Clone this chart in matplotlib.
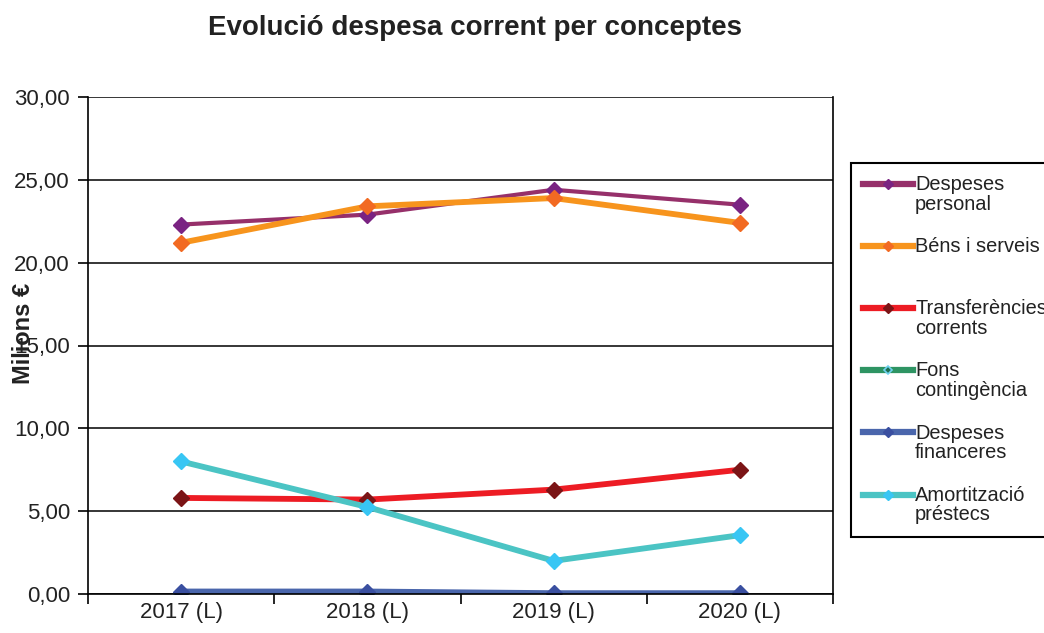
import matplotlib
matplotlib.use("Agg")
import matplotlib.pyplot as plt
from matplotlib.legend_handler import HandlerLine2D
from matplotlib.ticker import FixedLocator, FuncFormatter

plt.rcParams['font.family'] = ['Liberation Sans', 'DejaVu Sans']

years = ["2017 (L)", "2018 (L)", "2019 (L)", "2020 (L)"]
despeses_personal = [22.3, 22.9, 24.4, 23.5]
bens_serveis = [21.2, 23.4, 23.9, 22.4]
transferencies = [5.8, 5.7, 6.3, 7.5]
fons_contingencia = [0.0, 0.0, 0.0, 0.0]
despeses_financeres = [0.15, 0.15, 0.05, 0.05]
amortitzacio = [8.0, 5.25, 2.0, 3.55]

series = [
    ("Despeses\npersonal", despeses_personal, "#96306A", "#7A2382", 3.0, "D"),
    ("Béns i serveis\n ", bens_serveis, "#F7941D", "#F26A22", 4.2, "D"),
    ("Transferències\ncorrents", transferencies, "#ED1C24", "#7B1416", 4.2, "D"),
    ("Fons\ncontingència", fons_contingencia, "#2E9463", "#2E9463", 4.2, "D"),
    ("Despeses\nfinanceres", despeses_financeres, "#4A66AC", "#3A4FA0", 4.2, "D"),
    ("Amortització\npréstecs", amortitzacio, "#4BC4C4", "#38C6F4", 4.2, "D"),
]

fig = plt.figure(figsize=(10.44, 6.33), dpi=100)
ax = fig.add_axes([88/1044, 1-594/633, (833-88)/1044, (594-97)/633])

xpos = [i + 0.5 for i in range(len(years))]
handles = []
for label, vals, lc, mc, lw, mk in series:
    if label.startswith("Fons"):
        h, = ax.plot(xpos, vals, color=lc, lw=lw, marker=mk, markersize=7,
                     markerfacecolor="#1F6F50", markeredgecolor="#6FD3F0",
                     markeredgewidth=1.2, label=label)
    else:
        h, = ax.plot(xpos, vals, color=lc, lw=lw, marker=mk, markersize=8.5,
                     markerfacecolor=mc, markeredgecolor=mc, label=label)
    handles.append(h)

ax.set_xlim(0, 4)
ax.set_ylim(0, 30)
ax.yaxis.set_major_locator(FixedLocator([0, 5, 10, 15, 20, 25, 30]))
ax.yaxis.set_major_formatter(FuncFormatter(lambda v, p: f"{v:.2f}".replace(".", ",")))
ax.xaxis.set_major_locator(FixedLocator(xpos))
ax.set_xticklabels(years)
ax.xaxis.set_minor_locator(FixedLocator([0, 1, 2, 3, 4]))
ax.tick_params(axis='x', which='major', length=0, labelsize=16, pad=6, colors='#222222')
ax.tick_params(axis='x', which='minor', length=7, width=1.2, direction='out', color='black')
ax.tick_params(axis='y', which='major', length=7, width=1.2, labelsize=16, pad=6,
               colors='#222222')
ax.tick_params(axis='y', color='black')
ax.yaxis.grid(True, color='black', lw=1.1)
ax.set_axisbelow(True)
for s in ['left', 'bottom', 'right']:
    ax.spines[s].set_color('black')
    ax.spines[s].set_linewidth(1.2)
ax.spines['top'].set_visible(False)

fig.text(475/1044, 1-28/633, "Evolució despesa corrent per conceptes",
         ha='center', va='center', fontsize=20, fontweight='bold', color='#222222')
fig.text(24/1044, 1-333/633, "Milions €", rotation=90, ha='center', va='center',
         fontsize=17, fontweight='bold', color='#222222')


class UpHandler(HandlerLine2D):
    def create_artists(self, legend, orig_handle, xdescent, ydescent, width,
                       height, fontsize, trans):
        return super().create_artists(legend, orig_handle, xdescent,
                                      ydescent - 1.1 * fontsize, width, height,
                                      fontsize, trans)


leg = fig.legend(handles=handles, loc='upper left',
                 bbox_to_anchor=(851/1044, 1-163/633), borderaxespad=0,
                 fontsize=14.4, frameon=True, fancybox=False, edgecolor='black',
                 framealpha=1, handlelength=2.5, handletextpad=0.1,
                 labelspacing=1.17, markerscale=0.6, borderpad=0.6,
                 handler_map={h: UpHandler() for h in handles})
leg.get_frame().set_linewidth(1.5)
for lh in leg.get_lines():
    lh.set_linewidth(4.5)
for t in leg.get_texts():
    t.set_color('#222222')
    t.set_linespacing(1.05)

fig.savefig("out.png", dpi=100)
